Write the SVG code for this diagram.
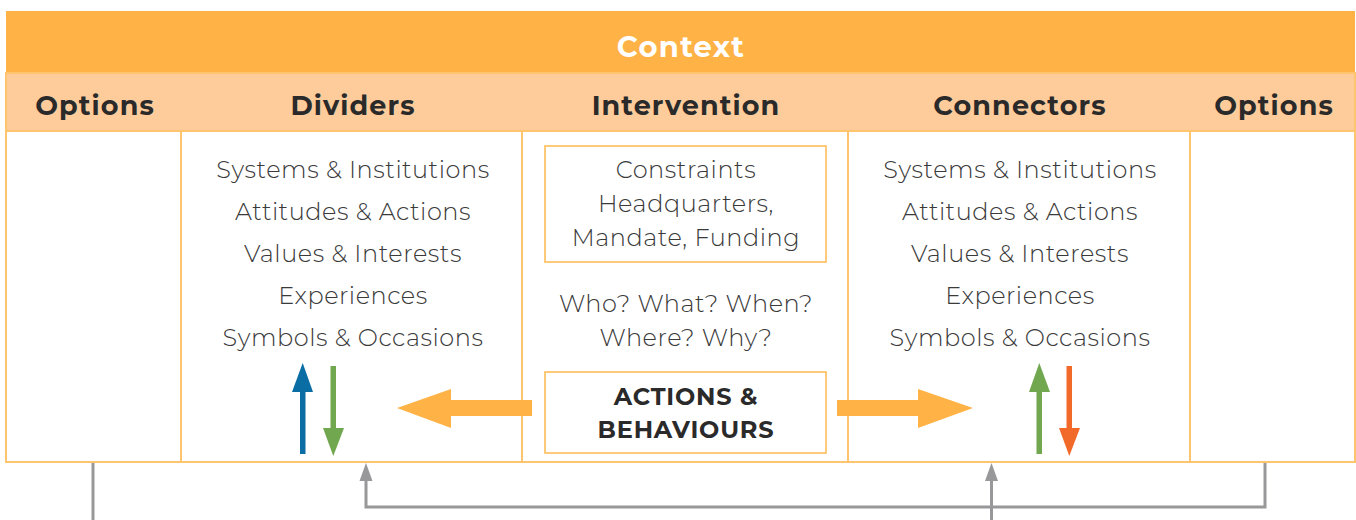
<svg xmlns="http://www.w3.org/2000/svg" width="1356" height="520" viewBox="0 0 1356 520">
<style>
.hdr{font-family:Montserrat,"Open Sans","Liberation Sans",sans-serif;font-weight:700;font-size:27px;letter-spacing:1.1px;fill:#2a2a2a;text-anchor:middle}
.ctx{font-family:Montserrat,"Open Sans","Liberation Sans",sans-serif;font-weight:700;font-size:29px;letter-spacing:1.3px;fill:#ffffff;text-anchor:middle}
.bd{font-family:Montserrat,"Open Sans","Liberation Sans",sans-serif;font-weight:300;font-size:24px;letter-spacing:0.55px;fill:#3a3a3a;text-anchor:middle}
.bb{font-family:Montserrat,"Open Sans","Liberation Sans",sans-serif;font-weight:700;font-size:24px;letter-spacing:0.8px;fill:#2a2a2a;text-anchor:middle}
.cell{fill:#ffffff;stroke:#ffc46e;stroke-width:2}
.box{fill:#ffffff;stroke:#ffb84f;stroke-width:1.5}
.gray{fill:none;stroke:#98989a;stroke-width:3}
</style>
<rect width="1356" height="520" fill="#ffffff"/>
<g id="context">
<rect x="6" y="11" width="1349" height="62" fill="#ffb347"/>
<text class="ctx" x="681" y="57">Context</text>
</g>
<g id="headers">
<rect x="6" y="73" width="1349" height="58" fill="#fecc9b" stroke="#ffc46e" stroke-width="2"/>
</g>
<g id="options-left">
<rect class="cell" x="6" y="131" width="175" height="331"/>
<text class="hdr" x="95" y="115">Options</text>
</g>
<g id="dividers">
<rect class="cell" x="181" y="131" width="341" height="331"/>
<text class="hdr" x="353" y="115">Dividers</text>
<text class="bd" x="353" y="178">Systems &amp; Institutions</text>
<text class="bd" x="353" y="220">Attitudes &amp; Actions</text>
<text class="bd" x="353" y="262">Values &amp; Interests</text>
<text class="bd" x="353" y="304">Experiences</text>
<text class="bd" x="353" y="346">Symbols &amp; Occasions</text>
<rect x="300" y="391" width="5.5" height="63" fill="#0a6ea4"/>
<polygon points="292,392 313,392 302.7,363" fill="#0a6ea4"/>
<rect x="330.5" y="366" width="5.5" height="63" fill="#70a74f"/>
<polygon points="323,428 344,428 333.3,456" fill="#70a74f"/>
</g>
<g id="intervention">
<rect class="cell" x="522" y="131" width="326" height="331"/>
<text class="hdr" x="686" y="115">Intervention</text>
<rect class="box" x="545" y="146" width="281" height="116"/>
<text class="bd" x="686" y="178">Constraints</text>
<text class="bd" x="686" y="212">Headquarters,</text>
<text class="bd" x="686" y="246">Mandate, Funding</text>
<text class="bd" x="686" y="312">Who? What? When?</text>
<text class="bd" x="686" y="346">Where? Why?</text>
<rect class="box" x="545" y="372" width="281" height="81"/>
<text class="bb" x="686" y="405">ACTIONS &amp;</text>
<text class="bb" x="686" y="438">BEHAVIOURS</text>
</g>
<g id="connectors-col">
<rect class="cell" x="848" y="131" width="342" height="331"/>
<text class="hdr" x="1020" y="115">Connectors</text>
<text class="bd" x="1020" y="178">Systems &amp; Institutions</text>
<text class="bd" x="1020" y="220">Attitudes &amp; Actions</text>
<text class="bd" x="1020" y="262">Values &amp; Interests</text>
<text class="bd" x="1020" y="304">Experiences</text>
<text class="bd" x="1020" y="346">Symbols &amp; Occasions</text>
<rect x="1036.5" y="391" width="5.5" height="63" fill="#70a74f"/>
<polygon points="1029,392 1050,392 1039.3,363" fill="#70a74f"/>
<rect x="1066.5" y="366" width="5.5" height="63" fill="#f26a2a"/>
<polygon points="1059,428 1080,428 1069.3,456" fill="#f26a2a"/>
</g>
<g id="options-right">
<rect class="cell" x="1190" y="131" width="165" height="331"/>
<text class="hdr" x="1274" y="115">Options</text>
</g>
<g id="connectors">
<polygon points="532,400 451,400 451,389 397,408 451,428 451,416 532,416" fill="#ffb347"/>
<polygon points="837,400 918,400 918,389 973,408 918,428 918,416 837,416" fill="#ffb347"/>
<line class="gray" x1="93" y1="463" x2="93" y2="520"/>
<polyline class="gray" points="1265,463 1265,507 366,507 366,480"/>
<polygon points="359.5,481 372.5,481 366,463" fill="#98989a"/>
<line class="gray" x1="991.5" y1="480" x2="991.5" y2="520"/>
<polygon points="985,481 998,481 991.5,463" fill="#98989a"/>
</g>
</svg>
